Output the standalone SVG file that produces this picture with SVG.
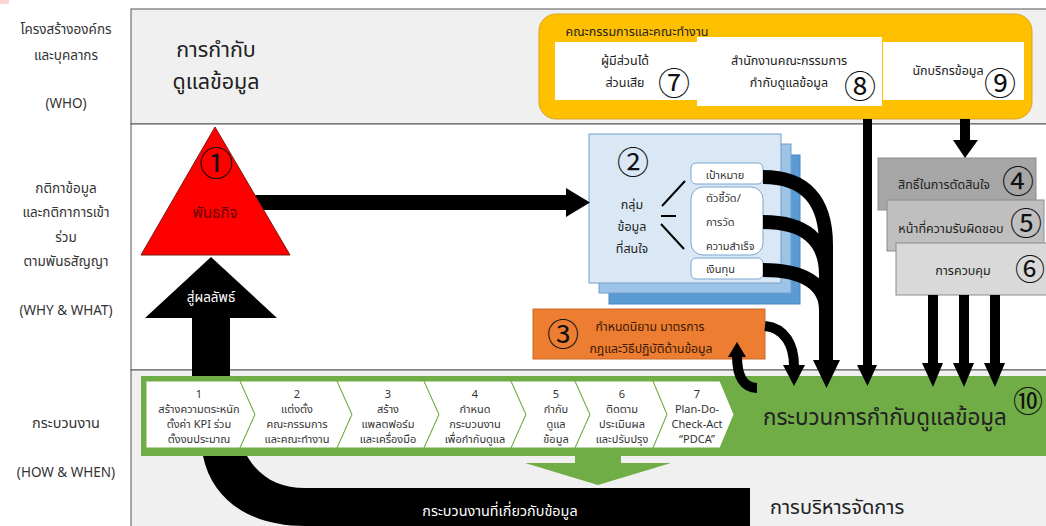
<svg xmlns="http://www.w3.org/2000/svg" width="1046" height="526" viewBox="0 0 1046 526">
<style>
text{font-family:"Noto Sans Thai","Noto Sans","DejaVu Sans",sans-serif;fill:#222;text-anchor:middle}
.l{font-size:13.5px;fill:#333}
.s{font-size:12.5px}
.c{font-size:11px;fill:#333}
.o{font-size:12.2px;fill:#3a1a05}
.b{fill:#222;text-anchor:start}
.n{font-family:"Noto Sans CJK SC","DejaVu Sans",sans-serif;font-size:32px;fill:#111}
.w{fill:#fff;stroke:none}
.k{fill:#000}
.t{fill:none;stroke:#000}
.chev{fill:#fff;stroke:#70ad47;stroke-width:1}
.bl{fill:#fff;stroke:#7aa6d0;stroke-width:1}
.st{text-anchor:start}
</style>
<rect width="1046" height="526" fill="#fff"/>
<rect x="0" y="0" width="9" height="4" fill="#fbd5d0"/>
<g id="bands">
<rect x="131" y="9" width="920" height="115" fill="#f0f0f0" stroke="#555" stroke-width="1"/>
<rect x="131" y="124" width="920" height="246" fill="#fff" stroke="#555" stroke-width="1"/>
<rect x="131" y="370" width="920" height="160" fill="#f0f0f0" stroke="#555" stroke-width="1"/>
</g>
<g id="row-labels">
<text class="l" x="66" y="34">โครงสร้างองค์กร</text>
<text class="l" x="66" y="60">และบุคลากร</text>
<text class="l" x="66" y="108">(WHO)</text>
<text class="l" x="66" y="193">กติกาข้อมูล</text>
<text class="l" x="66" y="217">และกติกาการเข้า</text>
<text class="l" x="66" y="242">ร่วม</text>
<text class="l" x="66" y="266">ตามพันธสัญญา</text>
<text class="l" x="66" y="315">(WHY &amp; WHAT)</text>
<text class="l" x="66" y="428" style="font-size:14.5px">กระบวนงาน</text>
<text class="l" x="66" y="477">(HOW &amp; WHEN)</text>
</g>
<g id="title-governance">
<text x="216" y="57" font-size="21.5">การกำกับ</text>
<text x="216" y="89" font-size="21.5">ดูแลข้อมูล</text>
</g>
<g id="node-10">
<rect x="141" y="376" width="905" height="80" fill="#70ad47"/>
<text class="b" x="763" y="425" style="font-size:22.400px">กระบวนการกำกับดูแลข้อมูล</text>
<text class="n" x="1028" y="412" style="font-size:30px">⑩</text>
</g>
<g id="node-committee">
<rect x="539" y="14" width="493" height="105" rx="17" fill="#ffc000" stroke="#d9a520" stroke-width="1"/>
<text x="637" y="36" style="font-size:12.500px">คณะกรรมการและคณะทำงาน</text>
</g>
<g id="node-7">
<rect class="w" x="555" y="42" width="142" height="58"/>
<text class="s" x="625" y="65">ผู้มีส่วนได้</text>
<text class="s" x="625" y="87">ส่วนเสีย</text>
<text class="n" x="674" y="95">⑦</text>
</g>
<g id="node-8">
<rect class="w" x="697" y="37" width="185" height="69"/>
<text class="s" x="789" y="65">สำนักงานคณะกรรมการ</text>
<text class="s" x="789" y="87">กำกับดูแลข้อมูล</text>
<text class="n" x="860" y="98">⑧</text>
</g>
<g id="node-9">
<rect class="w" x="883" y="42" width="141" height="58"/>
<text class="s" x="948" y="75">นักบริกรข้อมูล</text>
<text class="n" x="1000" y="95">⑨</text>
</g>
<g id="node-2">
<rect x="609" y="155" width="191" height="149" fill="#5b9bd5" stroke="#4a86bb"/>
<rect x="599" y="144" width="192" height="149" fill="#9dc3e6" stroke="#6f9fca"/>
<rect x="589" y="134" width="192" height="149" fill="#dae8f6" stroke="#6f9fca"/>
<text class="n" x="633" y="174">②</text>
<text class="s" x="632" y="209">กลุ่ม</text>
<text class="s" x="632" y="231">ข้อมูล</text>
<text class="s" x="632" y="253">ที่สนใจ</text>
<path d="M662 206L685 181M661 216H676M661 224L684 249" fill="none" stroke="#000" stroke-width="2"/>
<rect class="bl" x="691" y="163" width="72" height="21" rx="5"/>
<text class="c" x="725" y="179">เป้าหมาย</text>
<rect class="bl" x="691" y="187" width="72" height="68" rx="12"/>
<text class="c st" x="706" y="202">ตัวชี้วัด/</text>
<text class="c st" x="706" y="226">การวัด</text>
<text class="c st" x="706" y="250">ความสำเร็จ</text>
<rect class="bl" x="691" y="258" width="72" height="21" rx="5"/>
<text class="c st" x="706" y="273">เงินทุน</text>
</g>
<g id="node-3">
<rect x="533" y="309" width="232" height="50" fill="#ed7d31" stroke="#c8692a"/>
<text class="n" x="563" y="346">③</text>
<text class="o" x="650" y="331">กำหนดนิยาม มาตรการ</text>
<text class="o" x="651" y="353">กฎและวิธีปฏิบัติด้านข้อมูล</text>
</g>
<g id="node-4">
<rect x="878" y="158" width="158" height="52" fill="#a6a6a6" stroke="#8c8c8c"/>
<text class="s" x="944" y="189">สิทธิ์ในการตัดสินใจ</text>
<text class="n" x="1018" y="193">④</text>
</g>
<g id="node-5">
<rect x="887" y="200" width="157" height="51" fill="#bfbfbf" stroke="#8c8c8c"/>
<text class="s" x="951" y="233">หน้าที่ความรับผิดชอบ</text>
<text class="n" x="1026" y="235">⑤</text>
</g>
<g id="node-6">
<rect x="896" y="243" width="155" height="52" fill="#d9d9d9" stroke="#8c8c8c"/>
<text class="s" x="963" y="275">การควบคุม</text>
<text class="n" x="1030" y="280" style="font-size:30px">⑥</text>
</g>
<g id="connectors">
<path class="k" d="M192 376V318H145L211 257L277 318H230V376Z"/>
<path class="k" d="M250 195H566V188L590 202.500L566 217V210H250Z"/>
<path class="k" d="M203 456C212 500 250 526 305 526H750V488H305C280 488 260 478 247 456Z"/>
<path class="t" stroke-width="14" d="M763 177C805 177 826 200 826 245V362M763 222C805 222 826 240 826 275V362M763 270C805 270 826 285 826 310V362"/>
<path class="k" d="M813 360H840L826.500 388Z"/>
<path class="t" stroke-width="10" d="M765 326C785 328 794 345 794 366"/>
<path class="k" d="M783 365H805L794 386Z"/>
<path class="t" stroke-width="10" d="M757 388C745 388 737 378 737 356"/>
<path class="k" d="M728 357H746L737 342Z"/>
<path class="k" d="M863 119H872V365H877L867.500 386L857 365H863Z"/>
<path class="k" d="M960 119H970V140H978L965 158L953 140H960Z"/>
<path class="k" d="M928 295H938V363H943L933 387L922 363H928Z"/>
<path class="k" d="M959 295H969V363H974L964 387L953 363H959Z"/>
<path class="k" d="M990 295H1000V363H1005L995 387L984 363H990Z"/>
<path d="M575 456H621V463H671L598 485L525 463H575Z" fill="#70ad47"/>
</g>
<g id="node-1">
<path d="M215 127L290 255H141Z" fill="#f00" stroke="#7a1a10" stroke-width="1"/>
<text class="n" x="216" y="176" style="font-size:34px">①</text>
<text x="215" y="218" style="font-size:15px;fill:#6a0000">พันธกิจ</text>
</g>
<text x="211" y="302" style="font-size:13.500px;fill:#fff">สู่ผลลัพธ์</text>
<g id="process-steps">
<path class="chev" d="M146 381H240L255 414.500L240 448H146Z"/>
<path class="chev" d="M240 381H337L352 414.500L337 448H240L255 414.500Z"/>
<path class="chev" d="M337 381H424L439 414.500L424 448H337L352 414.500Z"/>
<path class="chev" d="M424 381H511L526 414.500L511 448H424L439 414.500Z"/>
<path class="chev" d="M511 381H575L590 414.500L575 448H511L526 414.500Z"/>
<path class="chev" d="M575 381H653L667 414.500L653 448H575L590 414.500Z"/>
<path d="M653 381H720L734 414.500L720 448H653L667 414.500Z" fill="#fff" stroke="#70ad47"/>
<text class="c" x="199" y="398">1</text><text class="c" x="199" y="413">สร้างความตระหนัก</text><text class="c" x="199" y="428">ตั้งค่า KPI ร่วม</text><text class="c" x="199" y="443">ตั้งงบประมาณ</text>
<text class="c" x="297" y="398">2</text><text class="c" x="297" y="413">แต่งตั้ง</text><text class="c" x="297" y="428">คณะกรรมการ</text><text class="c" x="297" y="443">และคณะทำงาน</text>
<text class="c" x="388" y="398">3</text><text class="c" x="388" y="413">สร้าง</text><text class="c" x="388" y="428">แพลตฟอร์ม</text><text class="c" x="388" y="443">และเครื่องมือ</text>
<text class="c" x="475" y="398">4</text><text class="c" x="475" y="413">กำหนด</text><text class="c" x="475" y="428">กระบวนงาน</text><text class="c" x="475" y="443">เพื่อกำกับดูแล</text>
<text class="c" x="556" y="398">5</text><text class="c" x="556" y="413">กำกับ</text><text class="c" x="556" y="428">ดูแล</text><text class="c" x="556" y="443">ข้อมูล</text>
<text class="c" x="622" y="398">6</text><text class="c" x="622" y="413">ติดตาม</text><text class="c" x="622" y="428">ประเมินผล</text><text class="c" x="622" y="443">และปรับปรุง</text>
<text class="c" x="697" y="398">7</text><text class="c" x="697" y="413">Plan-Do-</text><text class="c" x="697" y="428">Check-Act</text><text class="c" x="697" y="443">“PDCA”</text>
</g>
<text x="500" y="516" style="font-size:14.400px;fill:#fff">กระบวนงานที่เกี่ยวกับข้อมูล</text>
<g id="title-management">
<text class="b" x="770" y="514" style="font-size:20px">การบริหารจัดการ</text>
</g>
</svg>
